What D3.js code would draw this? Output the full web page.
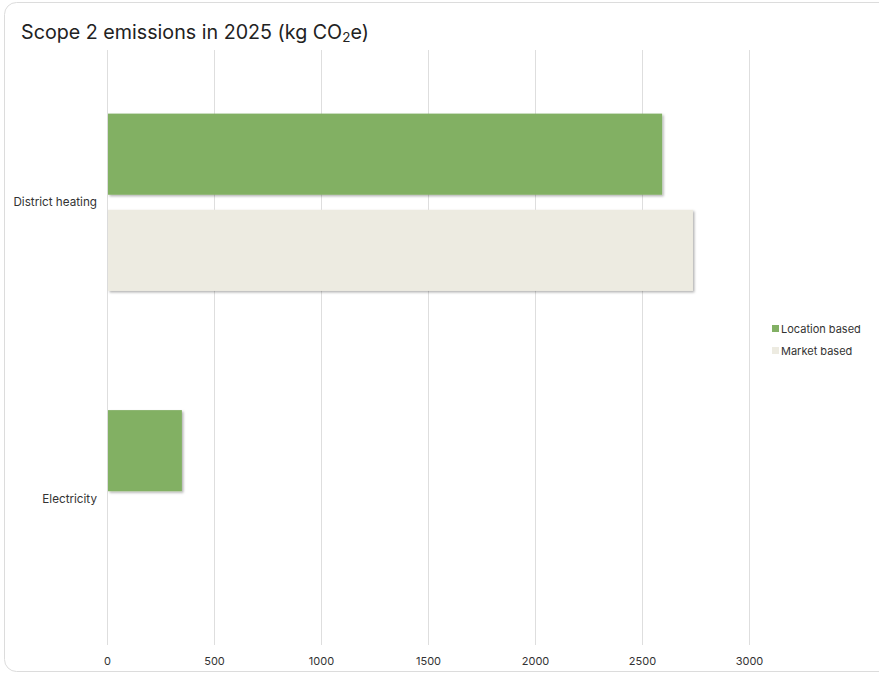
<!DOCTYPE html>
<html>
<head>
<meta charset="utf-8">
<script src="https://cdn.jsdelivr.net/npm/d3@7"></script>
<style>
  html, body { margin: 0; padding: 0; background: #fff; }
  svg { display: block; font-family: Inter, 'Noto Sans', sans-serif; }
</style>
</head>
<body>
<div id="chart"></div>
<script>
const categories = ['District heating', 'Electricity']
const series = ['Location based', 'Market based']
const locationBased = [2594, 350]
const marketBased = [2738, 0]
const xTicks = [0, 500, 1000, 1500, 2000, 2500, 3000]
const colors = ['#82b064', '#edebe1']

const width = 879
const height = 674
const plotLeft = 107
const plotTop = 54
const plotBottom = 647
const gridBottom = 645

const rows = categories.map((c, i) => ({
  category: c,
  values: [locationBased[i], marketBased[i]]
}))

const svg = d3.select('#chart')
  .append('svg')
  .attr('width', width)
  .attr('height', height)

const defs = svg.append('defs')
const shadow = defs.append('filter')
  .attr('id', 'shadow')
  .attr('x', '-5%').attr('y', '-5%')
  .attr('width', '120%').attr('height', '130%')
shadow.append('feDropShadow')
  .attr('dx', 1.5).attr('dy', 1.5)
  .attr('stdDeviation', 1.2)
  .attr('flood-color', '#000')
  .attr('flood-opacity', 0.3)

// card border
svg.append('rect')
  .attr('x', 4.5).attr('y', 2.5)
  .attr('width', 900).attr('height', 669)
  .attr('rx', 12)
  .attr('fill', '#fff')
  .attr('stroke', '#dcdcdc')

const title = svg.append('text')
  .attr('x', 21).attr('y', 39)
  .attr('font-size', 19.7)
  .attr('fill', '#222')
title.append('tspan').text('Scope 2 emissions in 2025 (kg CO')
title.append('tspan').attr('font-size', 13.5).attr('dy', 3).text('2')
title.append('tspan').attr('dy', -3).text('e)')

const x = d3.scaleLinear()
  .domain([0, 3000])
  .range([plotLeft, 749])

const y = d3.scaleBand()
  .domain(categories)
  .range([plotTop, plotBottom])

const yInner = d3.scaleBand()
  .domain(series)
  .range([0, y.bandwidth()])
  .paddingInner(0.156)
  .paddingOuter(0.62)

// gridlines
svg.append('g')
  .selectAll('line')
  .data(xTicks)
  .join('line')
  .attr('x1', (d) => x(d) + 0.5)
  .attr('x2', (d) => x(d) + 0.5)
  .attr('y1', 50)
  .attr('y2', gridBottom)
  .attr('stroke', '#dedede')
  .attr('stroke-width', 1)

// x axis labels
const xAxis = svg.append('g')
  .attr('transform', 'translate(0,' + gridBottom + ')')
  .call(d3.axisBottom(x).tickValues(xTicks).tickSize(0).tickPadding(12).tickFormat(d3.format('d')))
xAxis.select('.domain').remove()
xAxis.selectAll('text')
  .attr('font-size', 11)
  .attr('font-family', "Inter, 'Noto Sans', sans-serif")
  .attr('fill', '#333')

// y axis labels
const yAxis = svg.append('g')
  .attr('transform', 'translate(' + (plotLeft - 10) + ',0)')
  .call(d3.axisLeft(y).tickSize(0).tickPadding(0))
yAxis.select('.domain').remove()
yAxis.selectAll('text')
  .attr('font-size', 11.7)
  .attr('font-family', "Inter, 'Noto Sans', sans-serif")
  .attr('fill', '#333')

// bars
svg.append('g')
  .selectAll('g')
  .data(rows)
  .join('g')
  .attr('transform', (d) => 'translate(0,' + y(d.category) + ')')
  .selectAll('rect')
  .data((d) => d.values.map((v, i) => ({ key: series[i], value: v, i: i })))
  .join('rect')
  .filter((d) => d.value > 0)
  .attr('x', x(0) + 1)
  .attr('y', (d) => yInner(d.key))
  .attr('width', (d) => x(d.value) - x(0) - 1)
  .attr('height', yInner.bandwidth())
  .attr('fill', (d) => colors[d.i])
  .attr('filter', 'url(#shadow)')

// legend
const legend = svg.append('g')
  .attr('transform', 'translate(772,322)')
legend.selectAll('rect')
  .data(series)
  .join('rect')
  .attr('x', 0)
  .attr('y', (d, i) => i * 22 + 3)
  .attr('width', 7)
  .attr('height', 7)
  .attr('fill', (d, i) => colors[i])
legend.selectAll('text')
  .data(series)
  .join('text')
  .attr('x', 9)
  .attr('y', (d, i) => i * 22 + 11)
  .attr('font-size', 11)
  .attr('fill', '#333')
  .text((d) => d)
</script>
</body>
</html>
